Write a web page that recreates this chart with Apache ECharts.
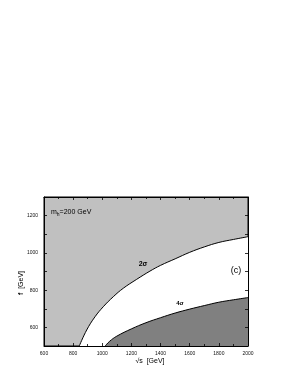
<!DOCTYPE html>
<html><head><meta charset="utf-8">
<script src="https://cdn.jsdelivr.net/npm/echarts@6/dist/echarts.min.js"></script>
<style>html,body{margin:0;padding:0;background:#fff}#c{width:298px;height:385px}</style>
</head><body><div id="c"></div>
<script>
const xTicks = [600, 800, 1000, 1200, 1400, 1600, 1800, 2000];
const yTicks = [600, 800, 1000, 1200];
const sigma2X = [842, 893, 950, 1007, 1076, 1144, 1236, 1327, 1400, 1500, 1600, 1700, 1800, 1900, 2000];
const sigma2Y = [500, 586, 657, 711, 765, 810, 858, 902, 933, 968, 1003, 1032, 1056, 1072, 1087];
const sigma4X = [1020, 1050, 1100, 1200, 1300, 1400, 1500, 1600, 1700, 1800, 1900, 2000];
const sigma4Y = [500, 525, 553, 592, 625, 652, 677, 698, 717, 735, 748, 760];

const pair = (xs, ys) => xs.map((x, i) => [x, ys[i]]);
const font = 'Liberation Sans, Arial, sans-serif';
const chart = echarts.init(document.getElementById('c'), null, {renderer: 'canvas'});

const xBase = {
  type: 'value', min: 600, max: 2000, interval: 200, z: 10,
  axisLine: {show: true, onZero: false, lineStyle: {color: '#000', width: 1}},
  axisTick: {show: true, inside: true, length: 3, lineStyle: {color: '#000', width: 0.8}},
  minorTick: {show: true, splitNumber: 2, length: 2, lineStyle: {color: '#000', width: 0.8}},
  splitLine: {show: false}
};
const yBase = {
  type: 'value', min: 500, max: 1300, interval: 100, z: 10,
  axisLine: {show: true, onZero: false, lineStyle: {color: '#000', width: 1}},
  axisTick: {show: true, inside: true, length: 3, lineStyle: {color: '#000', width: 0.8}},
  splitLine: {show: false}
};

chart.setOption({
  animation: false,
  backgroundColor: '#fff',
  grid: {left: 44, right: 50, top: 197, bottom: 39, show: true, backgroundColor: '#c0c0c0', borderColor: '#000', borderWidth: 1},
  xAxis: [
    Object.assign({}, xBase, {position: 'bottom',
      axisLabel: {show: true, fontSize: 5, color: '#111', fontFamily: font, margin: 5,
        formatter: v => xTicks.includes(v) ? String(v) : ''}}),
    Object.assign({}, xBase, {position: 'top', axisLabel: {show: false}})
  ],
  yAxis: [
    Object.assign({}, yBase, {position: 'left',
      axisLabel: {show: true, fontSize: 5, color: '#111', fontFamily: font, margin: 6,
        formatter: v => yTicks.includes(v) ? String(v) : ''}}),
    Object.assign({}, yBase, {position: 'right', axisLabel: {show: false}})
  ],
  series: [
    {type: 'line', data: pair(sigma2X, sigma2Y), smooth: 0.4, showSymbol: false, symbol: 'none',
      lineStyle: {color: '#000', width: 1}, areaStyle: {color: '#ffffff', opacity: 1, origin: 'start'}, z: 2},
    {type: 'line', data: pair(sigma4X, sigma4Y), smooth: 0.4, showSymbol: false, symbol: 'none',
      lineStyle: {color: '#000', width: 1}, areaStyle: {color: '#808080', opacity: 1, origin: 'start'}, z: 3}
  ],
  graphic: [
    {type: 'text', left: 51, top: 209, z: 20, style: {
      text: '{a|m}{b|h}{a|=200 GeV}', fontFamily: font, fill: '#000',
      rich: {a: {fontSize: 7, fontFamily: font, fill: '#000'}, b: {fontSize: 5, fontFamily: font, fill: '#000', padding: [4, 0, 0, 0]}}}},
    {type: 'text', x: 143, y: 264, z: 20, style: {text: '2σ', font: 'bold 7px ' + font, fill: '#000', align: 'center', verticalAlign: 'middle'}},
    {type: 'text', x: 180, y: 303, z: 20, style: {text: '4σ', font: 'bold 6px ' + font, fill: '#000', align: 'center', verticalAlign: 'middle'}},
    {type: 'text', x: 236, y: 271, z: 20, style: {text: '(c)', font: '9px ' + font, fill: '#000', align: 'center', verticalAlign: 'middle'}},
    {type: 'text', x: 150, y: 361, z: 20, style: {text: '√s  [GeV]', font: '7px ' + font, fill: '#000', align: 'center', verticalAlign: 'middle'}},
    {type: 'text', x: 21, y: 283, rotation: Math.PI / 2, z: 20, style: {
      text: '{f|f}{g|  [GeV]}', align: 'center', verticalAlign: 'middle',
      rich: {f: {font: 'bold 7px ' + font, fill: '#000'}, g: {font: '7px ' + font, fill: '#000'}}}}
  ]
});
</script></body></html>
